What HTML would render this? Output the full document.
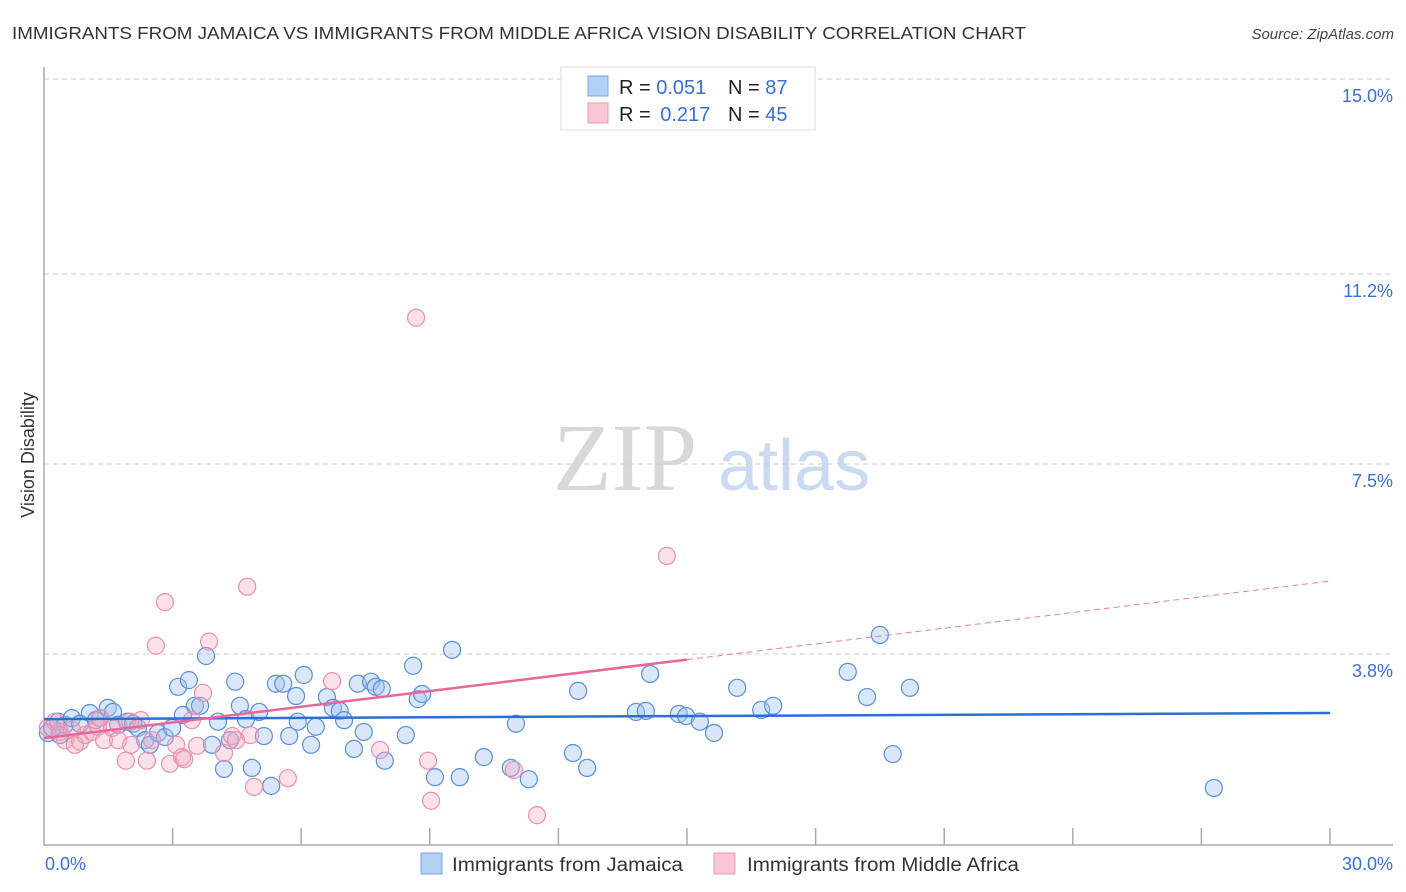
<!DOCTYPE html>
<html><head><meta charset="utf-8"><style>
body{margin:0;background:#fff;font-family:"Liberation Sans",sans-serif}
svg{display:block}
</style></head><body>
<svg id="chart" width="1406" height="892" xmlns="http://www.w3.org/2000/svg" font-family="Liberation Sans, sans-serif">
<text x="12" y="39" font-size="17.5" fill="#333" textLength="1014" lengthAdjust="spacingAndGlyphs">IMMIGRANTS FROM JAMAICA VS IMMIGRANTS FROM MIDDLE AFRICA VISION DISABILITY CORRELATION CHART</text>
<text x="1394" y="39" font-size="15" fill="#444" font-style="italic" text-anchor="end">Source: ZipAtlas.com</text>
<text transform="translate(34,455) rotate(-90)" font-size="18" fill="#333" text-anchor="middle">Vision Disability</text>
<g>
<text x="553" y="490" font-size="96" font-family="Liberation Serif, serif" fill="#d8d8d8">ZIP</text>
<text x="718" y="490" font-size="72" fill="#c9daf2">atlas</text>
</g>
<g id="grid"></g>
<g id="axes"></g>
<g id="blueDots"></g>
<g id="pinkDots"></g>
<g id="lines"></g>
<g>
<rect x="561" y="67" width="254" height="63" fill="#fff" stroke="#ddd"/>
<rect x="588" y="76" width="20" height="20" fill="#b5d0f5" stroke="#7aa6e6"/>
<rect x="588" y="103" width="20" height="20" fill="#f9c6d4" stroke="#ee9ab3"/>
<text x="619" y="94" font-size="20" fill="#222">R = <tspan fill="#3a6fd0">0.051</tspan></text>
<text x="728" y="94" font-size="20" fill="#222">N = <tspan fill="#3a6fd0">87</tspan></text>
<text x="619" y="121" font-size="20" fill="#222">R = <tspan fill="#3a6fd0" dx="4">0.217</tspan></text>
<text x="728" y="121" font-size="20" fill="#222">N = <tspan fill="#3a6fd0">45</tspan></text>
</g>
<g>
<rect x="421" y="853" width="21" height="21" fill="#b5d0f5" stroke="#7aa6e6"/>
<text x="452" y="871" font-size="19" fill="#333" textLength="231" lengthAdjust="spacingAndGlyphs">Immigrants from Jamaica</text>
</g>
<g>
<rect x="714" y="853" width="21" height="21" fill="#f9c6d4" stroke="#ee9ab3"/>
<text x="747" y="871" font-size="19" fill="#333" textLength="272" lengthAdjust="spacingAndGlyphs">Immigrants from Middle Africa</text>
</g>
</svg>
<script>
const yTicks=[3.8,7.5,11.2,15.0];
const yTickLabels=["3.8%","7.5%","11.2%","15.0%"];
const xTickLabels=["0.0%","30.0%"];
const blueX=[0.09,0.19,0.33,0.49,0.65,0.84,1.07,1.21,1.31,1.49,1.61,1.73,1.94,2.08,2.19,2.36,2.47,2.66,2.82,2.99,3.13,3.24,3.38,3.52,3.64,3.78,3.92,4.06,4.20,4.34,4.46,4.57,4.71,4.85,5.02,5.13,5.30,5.41,5.58,5.72,5.88,5.92,6.06,6.23,6.34,6.60,6.74,6.90,7.00,7.23,7.32,7.46,7.63,7.74,7.88,7.95,8.44,8.61,8.72,8.82,9.12,9.52,9.70,10.26,10.89,11.01,11.31,12.34,12.46,12.67,13.81,14.04,14.14,14.81,14.98,15.30,15.63,16.17,16.73,17.01,18.75,19.20,19.50,19.80,20.20,27.29,0.37];
const blueY=[2.26,2.36,2.48,2.42,2.55,2.44,2.65,2.51,2.55,2.75,2.67,2.42,2.48,2.44,2.36,2.12,2.03,2.26,2.18,2.36,3.16,2.61,3.29,2.79,2.79,3.76,2.03,2.48,1.56,2.12,3.26,2.79,2.53,1.58,2.67,2.20,1.23,3.22,3.22,2.20,2.98,2.48,3.39,2.03,2.38,2.96,2.75,2.69,2.51,1.95,3.22,2.28,3.26,3.16,3.12,1.72,2.22,3.57,2.92,3.02,1.40,3.88,1.40,1.79,1.58,2.44,1.36,1.87,3.08,1.58,2.67,2.69,3.41,2.63,2.59,2.48,2.26,3.14,2.71,2.79,3.45,2.96,4.17,1.85,3.14,1.19,2.22];
const pinkX=[0.09,0.26,0.37,0.49,0.65,0.84,0.96,1.12,1.26,1.40,1.59,1.73,1.91,2.03,2.26,2.40,2.52,2.61,2.82,2.94,3.08,3.22,3.27,3.45,3.57,3.71,3.85,4.20,4.39,4.48,4.74,4.81,4.90,5.69,6.72,7.84,8.68,8.96,9.03,10.96,11.50,14.53,0.72,1.31,2.01];
const pinkY=[2.36,2.48,2.28,2.12,2.32,2.09,2.22,2.28,2.38,2.12,2.36,2.12,1.72,2.03,2.51,1.72,2.12,3.96,4.81,1.66,2.03,1.79,1.75,2.51,2.01,3.04,4.04,1.87,2.20,2.12,5.11,2.22,1.21,1.38,3.27,1.93,10.35,1.72,0.94,1.54,0.66,5.71,2.03,2.55,2.48];
const blueTrend=[2.53,2.65];
const pinkTrend=[2.16,5.22];
const NS="http://www.w3.org/2000/svg";
const X0=44,X1=1330,YB=849,PPY=51.33;
const sx=v=>X0+(X1-X0)*v/30;
const sy=v=>YB-v*PPY;
function mk(tag,attrs,parent,text){const e=document.createElementNS(NS,tag);for(const k in attrs)e.setAttribute(k,attrs[k]);if(text!=null)e.textContent=text;parent.appendChild(e);return e;}
const grid=document.getElementById('grid'),axes=document.getElementById('axes');
yTicks.forEach((t,i)=>{
 const l=mk('line',{x1:X0,x2:1393,y1:sy(t),y2:sy(t),stroke:'#ccc','stroke-dasharray':'5,4'},grid);
 
 
 const tx=mk('text',{x:1393,y:sy(t)+23,'font-size':18,fill:'#3a6fd0','text-anchor':'end'},grid,yTickLabels[i]);
 
 
});
const ax=mk('path',{d:`M${X0},67 V845 H1393`,fill:'none',stroke:'#aaa','stroke-width':1.5},axes);


for(let i=1;i<=10;i++){
 const t=mk('line',{x1:sx(i*3),x2:sx(i*3),y1:828,y2:845,stroke:'#aaa','stroke-width':1.5},axes);
 
 
}
const xl0=mk('text',{x:45,y:870,'font-size':18,fill:'#3a6fd0'},axes,xTickLabels[0]);


const xl1=mk('text',{x:1393,y:870,'font-size':18,fill:'#3a6fd0','text-anchor':'end'},axes,xTickLabels[1]);


const bd=document.getElementById('blueDots');
blueX.forEach((x,i)=>{
 const c=mk('circle',{cx:sx(x),cy:sy(blueY[i]),r:8.5,fill:'rgba(160,196,240,0.4)',stroke:'#5b8fd9','stroke-width':1.2},bd);
 
 
});
const pd=document.getElementById('pinkDots');
pinkX.forEach((x,i)=>{
 const c=mk('circle',{cx:sx(x),cy:sy(pinkY[i]),r:8.5,fill:'rgba(244,170,192,0.35)',stroke:'#ec90ab','stroke-width':1.2},pd);
 
 
});
const ln=document.getElementById('lines');
const bl=mk('line',{x1:sx(0),y1:sy(blueTrend[0]),x2:sx(30),y2:sy(blueTrend[1]),stroke:'#2a6fd6','stroke-width':2.5},ln);


const pm=pinkTrend[0]+(pinkTrend[1]-pinkTrend[0])*0.5;
const pl=mk('line',{x1:sx(0),y1:sy(pinkTrend[0]),x2:sx(15),y2:sy(pm),stroke:'#e8669a','stroke-width':2.5},ln);


const pdsh=mk('line',{x1:sx(15),y1:sy(pm),x2:sx(30),y2:sy(pinkTrend[1]),stroke:'#e8819f','stroke-width':1,'stroke-dasharray':'6,4'},ln);


</script>
</body></html>
